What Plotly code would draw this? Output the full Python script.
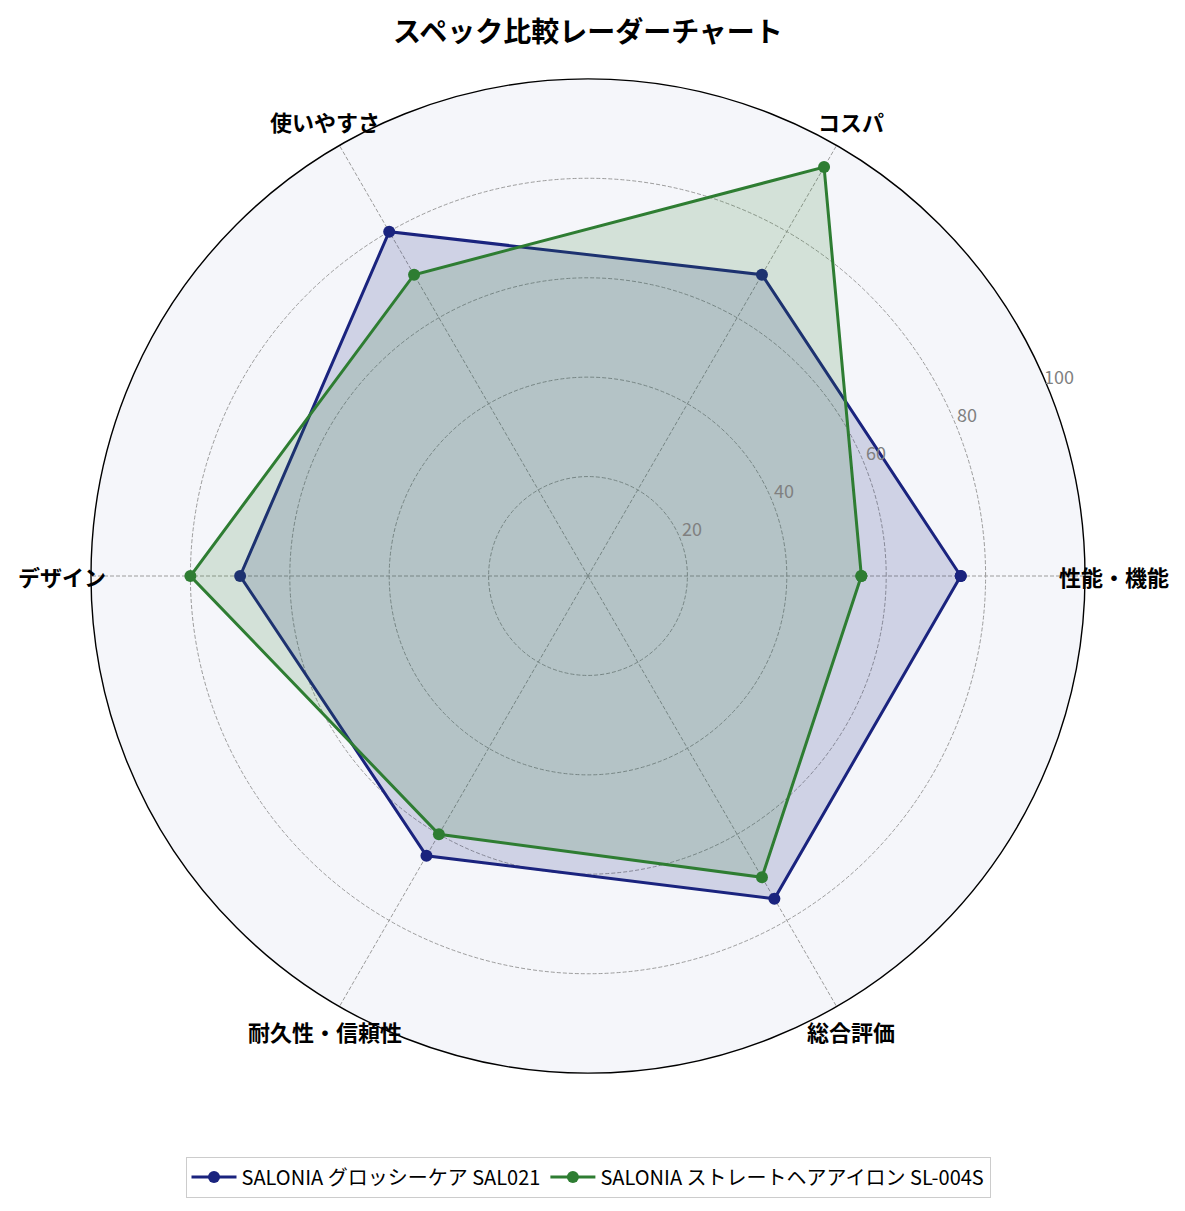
import math
import plotly.graph_objects as go

categories = ["性能・機能", "コスパ", "使いやすさ", "デザイン", "耐久性・信頼性", "総合評価"]
series_names = ["SALONIA グロッシーケア SAL021", "SALONIA ストレートヘアアイロン SL-004S"]
values_sal021 = [75, 70, 80, 70, 65, 75]
values_sl004s = [55, 95, 70, 80, 60, 70]
radial_ticks = [20, 40, 60, 80, 100]
title_text = "スペック比較レーダーチャート"

FONT = "Noto Sans CJK JP"
W, H = 1185, 1211
line_colors = ["#1a237e", "#2e7d32"]
fill_colors = ["rgba(26,35,126,0.17)", "rgba(46,125,50,0.17)"]
GRID = "#9c9c9c"

# polar geometry (figure pixels; page adds an 8px body margin)
CX, CY, R = 580, 568, 497
RMAX = 100
dom_x = [(CX - R) / W, (CX + R) / W]
dom_y = [(H - CY - R) / H, (H - CY + R) / H]

fig = go.Figure()
for name, vals, lc, fc in zip(series_names, [values_sal021, values_sl004s], line_colors, fill_colors):
    r_closed = vals + vals[:1]
    th_closed = categories + categories[:1]
    # filled area (no legend entry)
    fig.add_trace(go.Scatterpolar(
        r=r_closed, theta=th_closed,
        mode="lines", line=dict(color=lc, width=0),
        fill="toself", fillcolor=fc,
        showlegend=False, hoverinfo="skip",
    ))
    # outline with markers
    fig.add_trace(go.Scatterpolar(
        r=r_closed, theta=th_closed,
        name=name,
        mode="lines+markers",
        line=dict(color=lc, width=3),
        marker=dict(color=lc, size=12),
    ))

# category labels just outside the outer ring
label_r = R * 1.058
n = len(categories)
for i, cat in enumerate(categories):
    ang = 2 * math.pi * i / n
    fig.add_annotation(
        text=f"<b>{cat}</b>", showarrow=False,
        xref="paper", yref="paper",
        x=(CX + label_r * math.cos(ang)) / W,
        y=(H - CY + label_r * math.sin(ang)) / H,
        xanchor="center", yanchor="middle",
        font=dict(family=FONT, size=22, color="black"),
    )

# radial tick labels along the 22.5 degree direction
rl_ang = math.radians(22.5)
for t in radial_ticks:
    rp = t / RMAX * R
    fig.add_annotation(
        text=str(t), showarrow=False,
        xref="paper", yref="paper",
        x=(CX + rp * math.cos(rl_ang) + 12) / W,
        y=(H - CY + rp * math.sin(rl_ang) + 10) / H,
        xanchor="center", yanchor="middle",
        font=dict(family=FONT, size=18, color="#808080"),
    )

fig.update_layout(
    width=W, height=H,
    paper_bgcolor="white",
    margin=dict(l=0, r=0, t=0, b=0),
    font=dict(family=FONT),
    title=dict(text=f"<b>{title_text}</b>", x=CX / W, xanchor="center", y=1 - 24 / H, yanchor="middle",
               font=dict(family=FONT, size=28, color="black")),
    polar=dict(
        domain=dict(x=dom_x, y=dom_y),
        bgcolor="#f5f6fa",
        angularaxis=dict(
            categoryarray=categories, categoryorder="array",
            rotation=0, direction="counterclockwise",
            showline=True, linecolor="black", linewidth=1.4,
            showgrid=True, gridcolor=GRID, griddash="4px,2px", gridwidth=0.8,
            showticklabels=False, ticks="",
        ),
        radialaxis=dict(
            range=[0, RMAX], tickvals=radial_ticks,
            angle=22.5, showline=False, ticks="", showticklabels=False,
            showgrid=True, gridcolor=GRID, griddash="4px,2px", gridwidth=0.8,
        ),
    ),
    legend=dict(
        orientation="h", x=CX / W, xanchor="center", y=1 - 1169 / H, yanchor="middle",
        bordercolor="#cccccc", borderwidth=1, bgcolor="white",
        font=dict(family=FONT, size=20, color="black"),
        itemwidth=45,
    ),
)

fig.write_html("out.html")
